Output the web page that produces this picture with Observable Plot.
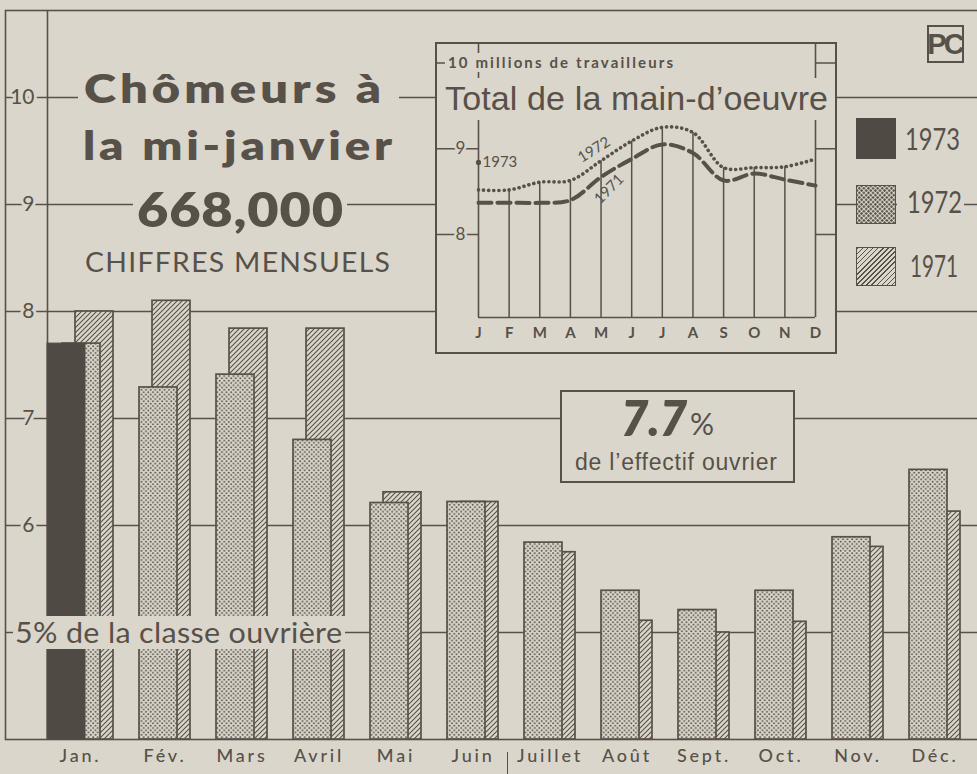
<!DOCTYPE html>
<html><head><meta charset="utf-8">
<script src="https://cdn.jsdelivr.net/npm/d3@7"></script>
<script src="https://cdn.jsdelivr.net/npm/@observablehq/plot@0.6"></script>
<style>
html,body{margin:0;padding:0;background:#dbd6cb;}
#page{position:relative;width:977px;height:774px;overflow:hidden;background:#dbd6cb;}
.abs{position:absolute;white-space:nowrap;line-height:1;}
</style></head><body><div id="page"></div>
<script>
const BG = "#dbd6cb", INK = "#57514a", DARK = "#504a44";
const LATO = "Lato, 'Noto Sans', sans-serif";
const ARIAL = "'Liberation Sans', Arial, sans-serif";

// ---- main chart data (percent of workforce, monthly) ----
const months = ["Jan.","Fév.","Mars","Avril","Mai","Juin","Juillet","Août","Sept.","Oct.","Nov.","Déc."];
const unemp1973 = [7.7];
const unemp1972 = [7.70, 7.29, 7.41, 6.80, 6.21, 6.22, 5.84, 5.39, 5.21, 5.39, 5.89, 6.52];
const unemp1971 = [8.00, 8.10, 7.84, 7.84, 6.31, 6.22, 5.75, 5.11, 5.00, 5.10, 5.80, 6.13];
const gridValues = [5, 6, 7, 8, 9, 10];
const yTickLabels = [6, 7, 8, 9, 10];
const legendYears = ["1973", "1972", "1971"];

// ---- inset data (total workforce, millions) ----
const monthLetters = ["J","F","M","A","M","J","J","A","S","O","N","D"];
const labour1972 = [8.52, 8.52, 8.61, 8.63, 8.86, 9.09, 9.25, 9.19, 8.78, 8.78, 8.79, 8.88];
const labour1971 = [8.37, 8.37, 8.37, 8.40, 8.67, 8.88, 9.05, 8.95, 8.63, 8.71, 8.64, 8.57];
const labour1973 = [8.84];
const insetTicks = [8, 9, 10];

const page = document.getElementById("page");

// ---------- main chart ----------
const BASE = 4, YTOP = 10.813;
const rows = months.map((m, i) => ({month: m, v72: unemp1972[i], v71: unemp1971[i]}));
const rows73 = unemp1973.map((v, i) => ({month: months[i], v}));

const main = Plot.plot({
  width: 977, height: 774,
  marginLeft: 5, marginRight: -3, marginTop: 10, marginBottom: 35,
  style: {background: "transparent", fontFamily: LATO, color: INK, overflow: "visible"},
  x: {type: "band", domain: months, range: [62, 948], paddingInner: 0.5065, paddingOuter: 0, align: 0, label: null},
  y: {domain: [BASE, YTOP], axis: null, label: null},
  marks: [
    Plot.ruleY(gridValues, {stroke: INK, strokeWidth: 1.6}),
    Plot.frame({stroke: INK, strokeWidth: 1.6}),
    Plot.ruleX([months[0]], {x: d => d, dx: -34, stroke: INK, strokeWidth: 1.6}),
    Plot.text(yTickLabels, {y: d => d, text: d => String(d), frameAnchor: "left", dx: 29, textAnchor: "end",
      fontSize: 21, fill: INK, stroke: BG, strokeWidth: 6}),
    Plot.barY(rows, {x: "month", y1: () => BASE, y2: "v71", dx: 13, fill: "url(#hatch71)", stroke: INK, strokeWidth: 1.7}),
    Plot.barY(rows, {x: "month", y1: () => BASE, y2: "v72", fill: "url(#dots72)", stroke: INK, strokeWidth: 1.7}),
    Plot.barY(rows73, {x: "month", y1: () => BASE, y2: "v", dx: -15, fill: DARK, stroke: DARK, strokeWidth: 1}),
    Plot.axisX(months.slice(1), {tickSize: 0, tickPadding: 10, dx: 6.5, fontSize: 18, fontWeight: 500, fill: INK, label: null}),
    Plot.axisX(months.slice(0, 1), {tickSize: 0, tickPadding: 10, dx: -1, fontSize: 18, fontWeight: 500, fill: INK, label: null})
  ]
});
const msvg = d3.select(main);
const defs = msvg.insert("defs", ":first-child");
const dp = defs.append("pattern").attr("id", "dots72").attr("patternUnits", "userSpaceOnUse").attr("width", 4.6).attr("height", 4.6);
dp.append("rect").attr("width", 4.6).attr("height", 4.6).attr("fill", BG);
dp.append("circle").attr("cx", 1.15).attr("cy", 1.15).attr("r", 1.0).attr("fill", INK);
dp.append("circle").attr("cx", 3.45).attr("cy", 3.45).attr("r", 1.0).attr("fill", INK);
const hp = defs.append("pattern").attr("id", "hatch71").attr("patternUnits", "userSpaceOnUse").attr("width", 5).attr("height", 5);
hp.append("rect").attr("width", 5).attr("height", 5).attr("fill", BG);
hp.append("path").attr("d", "M-1.25,1.25L1.25,-1.25M0,5L5,0M3.75,6.25L6.25,3.75").attr("stroke", INK).attr("stroke-width", 1.1);
msvg.selectAll("[aria-label='x-axis tick label'] text").style("letter-spacing", "2.8px");
main.style.position = "absolute"; main.style.left = "0px"; main.style.top = "0px";
page.appendChild(main);

// ---------- inset ----------
const IN_BASE = 7.032, IN_TOP = 10.239;
const insetRows = monthLetters.map((m, i) => ({i, m, v72: labour1972[i], v71: labour1971[i]}));
const rows1973 = labour1973.map((v, i) => ({i, v, label: "1973"}));
const seriesLabelRows = [
  {i: 4, v: labour1972[4], label: "1972"},
  {i: 4, v: labour1971[4], label: "1971"}
];
const inset = Plot.plot({
  width: 402, height: 312,
  marginLeft: 43, marginRight: 22, marginTop: 0, marginBottom: 37,
  style: {background: "transparent", fontFamily: LATO, color: INK, overflow: "visible"},
  x: {domain: [0, 11], label: null},
  y: {domain: [IN_BASE, IN_TOP], axis: null, label: null},
  marks: [
    Plot.ruleX(insetRows.slice(1, 11), {x: "i", y1: () => IN_BASE, y2: "v72", stroke: INK, strokeWidth: 1.5}),
    Plot.ruleX([0, 11], {stroke: INK, strokeWidth: 1.6}),
    Plot.ruleY([IN_BASE], {stroke: INK, strokeWidth: 1.6}),
    Plot.axisY(insetTicks, {anchor: "left", tickSize: 41, tickFormat: () => "", stroke: INK, strokeWidth: 1.5, label: null}),
    Plot.axisY(insetTicks, {anchor: "right", tickSize: 21, tickFormat: () => "", stroke: INK, strokeWidth: 1.5, label: null}),
    Plot.text(insetTicks.filter(t => t < 10), {y: d => d, text: d => String(d), frameAnchor: "left", dx: -23,
      fontSize: 17, fill: INK, stroke: BG, strokeWidth: 5}),
    Plot.line(insetRows, {x: "i", y: "v71", curve: "catmull-rom", stroke: INK, strokeWidth: 4, strokeDasharray: "13 6"}),
    Plot.line(insetRows, {x: "i", y: "v72", curve: "catmull-rom", stroke: INK, strokeWidth: 3.6, strokeDasharray: "0.1 5", strokeLinecap: "round"}),
    Plot.dot(rows1973, {x: "i", y: "v", r: 2.6, fill: INK}),
    Plot.text(rows1973, {x: "i", y: "v", text: "label", dx: 4, textAnchor: "start", fontSize: 15, fill: INK}),
    Plot.text(seriesLabelRows.slice(0, 1), {x: "i", y: "v", text: "label", dx: -7, dy: -11, rotate: -32, fontSize: 15, fill: INK}),
    Plot.text(seriesLabelRows.slice(1), {x: "i", y: "v", text: "label", dx: 8, dy: 12, rotate: -45, fontSize: 15, fill: INK}),
    Plot.axisX(d3.range(12), {tickSize: 0, tickPadding: 10, tickFormat: i => monthLetters[i], fontSize: 15, fontWeight: "bold", fill: INK, label: null})
  ]
});
const insetBox = document.createElement("div");
insetBox.className = "abs";
Object.assign(insetBox.style, {left: "435px", top: "42px", width: "402px", height: "312px", background: BG,
  outline: `2.6px solid ${INK}`, outlineOffset: "-2.6px"});
inset.style.position = "absolute"; inset.style.left = "0px"; inset.style.top = "0px";
insetBox.appendChild(inset);
page.appendChild(insetBox);

// ---------- text helper ----------
function place(txt, o) {
  const el = document.createElement("div");
  el.className = "abs";
  const span = document.createElement("span");
  span.textContent = txt;
  span.style.display = "inline-block";
  const mk = document.createElement("span");
  mk.style.cssText = "display:inline-block;width:0;height:0;vertical-align:baseline;";
  el.appendChild(span); el.appendChild(mk);
  Object.assign(el.style, {fontFamily: o.family || LATO, fontSize: o.size + "px", fontWeight: o.weight || 400,
    fontStyle: o.italic ? "italic" : "normal", color: o.color || INK});
  if (o.bg) el.style.background = BG;
  const [pt, pr, pb, pl] = o.pad || [0, 0, 0, 0];
  el.style.padding = `${pt}px ${pr}px ${pb}px ${pl}px`;
  (o.parent || page).appendChild(el);
  let w = span.getBoundingClientRect().width;
  if (o.width) {
    const n = [...txt].length;
    let s = o.stretch || 1;
    let ls = (o.width / s - w) / Math.max(1, n - 1);
    if (ls < -0.3) { ls = 0; s = o.width / w; }
    span.style.letterSpacing = ls + "px";
    span.style.transformOrigin = "0 0";
    span.style.transform = `scaleX(${s})`;
    span.style.marginRight = (o.width - (w + n * ls)) + "px";
    w = o.width;
  }
  const left = o.center != null ? o.center - w / 2 : o.left;
  el.style.left = (left - pl) + "px";
  const r = el.getBoundingClientRect();
  const b = mk.getBoundingClientRect().bottom - r.top;
  el.style.top = (o.baseline - b) + "px";
  return el;
}

// title block
place("Chômeurs à", {center: 232, baseline: 103, size: 40, weight: 800, width: 297, stretch: 1.22, bg: true, pad: [2, 18, 4, 6]});
place("la mi-janvier", {center: 237, baseline: 160, size: 40, weight: 800, width: 309, stretch: 1.18, bg: true, pad: [0, 4, 0, 4]});
place("668,000", {center: 240, baseline: 227, size: 47, weight: 800, width: 206, stretch: 1.15, bg: true, pad: [0, 4, 2, 4]});
place("CHIFFRES MENSUELS", {center: 237, baseline: 272, size: 27, weight: 400, width: 305, stretch: 1.05, bg: true, pad: [0, 3, 0, 3]});

// 5% label, knocking out bars
place("5% de la classe ouvrière", {left: 15, baseline: 643, size: 29, weight: 400, width: 327, stretch: 1.05, bg: true, pad: [1, 3, 3, 2]});

// 7.7% box
const box = document.createElement("div");
box.className = "abs";
Object.assign(box.style, {left: "560px", top: "390px", width: "235px", height: "93px", boxSizing: "border-box",
  border: `2.6px solid ${INK}`, background: BG});
page.appendChild(box);
place("7.7", {left: 621, baseline: 436, size: 49, weight: 800, italic: true, width: 66});
place("%", {left: 690, baseline: 435, size: 30, weight: 400, width: 30});
place("de l’effectif ouvrier", {left: 575, baseline: 470, size: 23, family: ARIAL, width: 202});

// inset titles
place("10 millions de travailleurs", {left: 448, baseline: 68, size: 15, weight: 700, width: 225, bg: true, pad: [2, 3, 2, 3]});
place("Total de la main-d’oeuvre", {left: 445, baseline: 110, size: 34, family: ARIAL, width: 383, bg: true, pad: [3, 4, 5, 4]});

// legend
const swatchStyles = [
  {background: DARK},
  {background: `radial-gradient(circle, ${INK} 1px, transparent 1.4px) 0 0/4.6px 4.6px, radial-gradient(circle, ${INK} 1px, transparent 1.4px) 2.3px 2.3px/4.6px 4.6px, ${BG}`},
  {background: `repeating-linear-gradient(135deg, ${INK} 0 1.1px, ${BG} 1.1px 3.6px)`}
];
const swTops = [118, 185, 247];
const swH = [41, 39, 39];
const lbBase = [150, 213, 277];
const lbLeft = [905, 907, 910];
const lbW = [55, 55, 48];
legendYears.forEach((yr, k) => {
  const sw = document.createElement("div");
  sw.className = "abs";
  Object.assign(sw.style, {left: "856px", top: swTops[k] + "px", width: "40px", height: swH[k] + "px",
    boxSizing: "border-box", border: `1.8px solid ${k === 0 ? DARK : INK}`}, swatchStyles[k]);
  page.appendChild(sw);
  place(yr, {left: lbLeft[k], baseline: lbBase[k], size: 30, weight: 400, width: lbW[k], bg: true,
    pad: [3, 2, 3, lbLeft[k] - 897]});
});

// PC logo
const pc = document.createElement("div");
pc.className = "abs";
Object.assign(pc.style, {left: "927px", top: "25px", width: "37px", height: "38px", boxSizing: "border-box",
  border: `2.4px solid ${INK}`, display: "flex", alignItems: "center", justifyContent: "center",
  fontFamily: ARIAL, fontWeight: 700, fontSize: "29px", letterSpacing: "-3px", color: INK, paddingRight: "2px"});
pc.textContent = "PC";
page.appendChild(pc);

// small column rule below the axis
const rule = document.createElement("div");
rule.className = "abs";
Object.assign(rule.style, {left: "506.5px", top: "752px", width: "1.3px", height: "22px", background: INK});
page.appendChild(rule);
</script>
</body></html>
